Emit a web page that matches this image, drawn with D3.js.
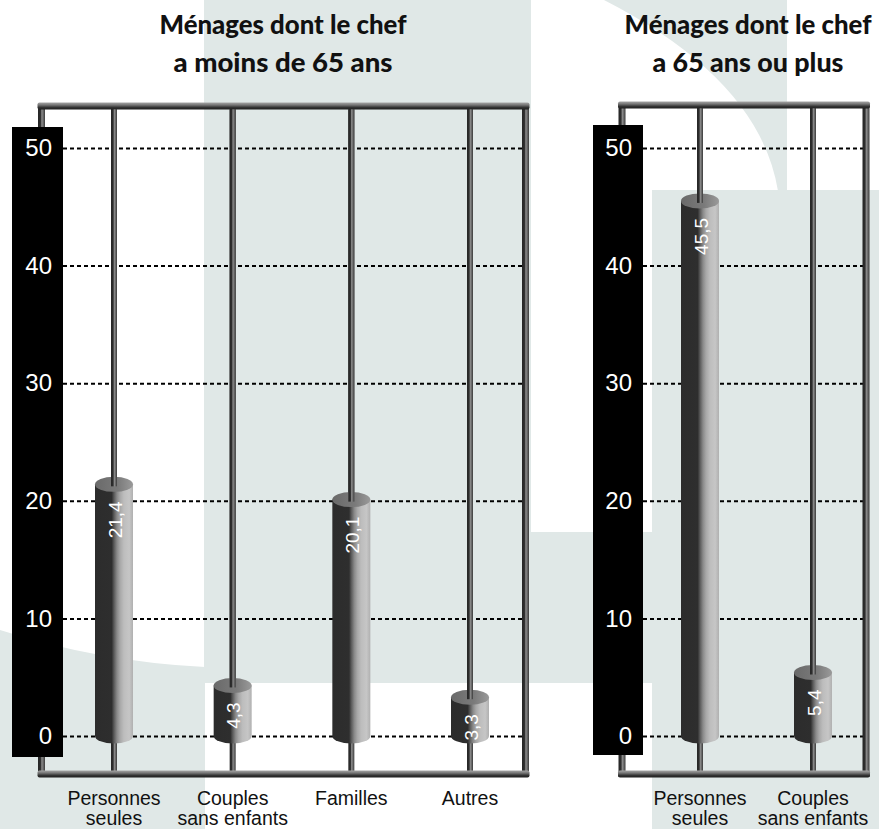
<!DOCTYPE html>
<html>
<head>
<meta charset="utf-8">
<script src="https://cdn.jsdelivr.net/npm/d3@7"></script>
<style>
  body { margin: 0; background: #fff; }
  svg { display: block; }
</style>
</head>
<body>
<div id="chart"></div>
<script>
// data
const leftCats = ["Personnes seules", "Couples sans enfants", "Familles", "Autres"];
const leftValues = [21.4, 4.3, 20.1, 3.3];
const rightCats = ["Personnes seules", "Couples sans enfants"];
const rightValues = [45.5, 5.4];
const catLines = {
  "Personnes seules": ["Personnes", "seules"],
  "Couples sans enfants": ["Couples", "sans enfants"],
  "Familles": ["Familles"],
  "Autres": ["Autres"]
};
const tickValues = [0, 10, 20, 30, 40, 50];
const leftTitle = ["Ménages dont le chef", "a moins de 65 ans"];
const rightTitle = ["Ménages dont le chef", "a 65 ans ou plus"];

const W = 879, H = 829;
const bgCol = "#e0e8e7";

let svg = d3.select("#chart").append("svg")
  .attr("width", W)
  .attr("height", H);

let defs = svg.append("defs");

// gradients
function hGrad(id, stops) {
  let g = defs.append("linearGradient").attr("id", id)
    .attr("x1", "0%").attr("x2", "100%").attr("y1", "0%").attr("y2", "0%");
  stops.forEach(s => g.append("stop").attr("offset", s[0]).attr("stop-color", s[1]));
}
function vGrad(id, stops) {
  let g = defs.append("linearGradient").attr("id", id)
    .attr("x1", "0%").attr("x2", "0%").attr("y1", "0%").attr("y2", "100%");
  stops.forEach(s => g.append("stop").attr("offset", s[0]).attr("stop-color", s[1]));
}
hGrad("cyl", [["0%", "#2c2c2c"], ["44%", "#2e2e2e"], ["50%", "#5a5a5a"], ["58%", "#8a8a8a"], ["66%", "#a8a8a8"], ["76%", "#bdbdbd"], ["90%", "#c6c6c6"], ["100%", "#b0b0b0"]]);
hGrad("cyltop", [["0%", "#6a6a6a"], ["60%", "#7a7a7a"], ["100%", "#9a9a9a"]]);
hGrad("rod", [["0%", "#262626"], ["35%", "#2e2e2e"], ["55%", "#8c8c8c"], ["75%", "#6a6a6a"], ["100%", "#3a3a3a"]]);
vGrad("bar", [["0%", "#a6a6a6"], ["35%", "#777"], ["70%", "#333"], ["100%", "#1e1e1e"]]);

// background shapes
let bg = svg.append("g");
bg.append("rect").attr("x", 204).attr("y", 0).attr("width", 327).attr("height", 683).attr("fill", bgCol);
bg.append("rect").attr("x", 530).attr("y", 532).attr("width", 126).attr("height", 151).attr("fill", bgCol);
bg.append("rect").attr("x", 652).attr("y", 190).attr("width", 227).attr("height", 639).attr("fill", bgCol);
bg.append("path").attr("d", "M604,0 Q760,80 778,191 L787,191 L787,0 Z").attr("fill", bgCol);
bg.append("path").attr("d", "M0,630 Q100,662 205,667 L205,829 L0,829 Z").attr("fill", bgCol);

// shared y scale
let y = d3.scaleLinear().domain([0, 50]).range([736, 148]);

const fr = d3.formatLocale({ decimal: ",", thousands: " ", grouping: [3], currency: ["", " €"] });
const fmt = fr.format(".1f");

function drawPanel(p) {
  let g = svg.append("g");
  let x = d3.scalePoint().domain(p.cats).range(p.xRange);
  const rodW = 6, barT = 7, cylW = 38, rx = cylW / 2, ry = 7.5;

  // title
  p.title.forEach((t, i) => {
    g.append("text")
      .attr("x", p.titleX)
      .attr("y", 34 + i * 38)
      .attr("text-anchor", "middle")
      .attr("font-family", "Lato, 'Open Sans', sans-serif")
      .attr("font-weight", "900")
      .attr("font-size", "26px")
      .attr("textLength", p.titleW[i])
      .attr("lengthAdjust", "spacingAndGlyphs")
      .attr("fill", "#111")
      .text(t);
  });

  // black axis bar
  g.append("rect")
    .attr("x", p.barX0).attr("y", p.barY0)
    .attr("width", p.barX1 - p.barX0).attr("height", p.barY1 - p.barY0)
    .attr("fill", "#000");

  // axis with dashed gridlines
  let axis = g.append("g")
    .attr("transform", "translate(" + p.barX1 + ",0)")
    .call(d3.axisLeft(y)
      .tickValues(tickValues)
      .tickSizeInner(-(p.frameR - p.barX1))
      .tickSizeOuter(0)
      .tickPadding(11));
  axis.select(".domain").remove();
  axis.selectAll(".tick line")
    .attr("stroke", "#000")
    .attr("stroke-width", 2)
    .attr("stroke-dasharray", "4,3");
  axis.selectAll(".tick text")
    .attr("fill", "#fff")
    .attr("font-family", "'Liberation Sans', Arial, sans-serif")
    .attr("font-size", "24px");

  // rods
  g.selectAll(".rod")
    .data(p.cats)
    .enter()
    .append("rect")
    .attr("class", "rod")
    .attr("x", d => x(d) - rodW / 2)
    .attr("y", p.frameT)
    .attr("width", rodW)
    .attr("height", p.frameB - p.frameT)
    .attr("fill", "url(#rod)");

  // frame posts
  g.append("rect").attr("x", p.frameL - 3.5).attr("y", p.frameT).attr("width", 7)
    .attr("height", p.barY0 - p.frameT).attr("fill", "url(#rod)");
  g.append("rect").attr("x", p.frameL - 3.5).attr("y", p.barY1).attr("width", 7)
    .attr("height", p.frameB - p.barY1 + 3).attr("fill", "url(#rod)");
  g.append("rect").attr("x", p.frameR - 3.5).attr("y", p.frameT).attr("width", 7)
    .attr("height", p.frameB - p.frameT + 3).attr("fill", "url(#rod)");
  // frame bars
  g.append("rect").attr("x", p.frameL - 4).attr("y", p.frameT - barT / 2)
    .attr("width", p.frameR - p.frameL + 8).attr("height", barT)
    .attr("rx", 2).attr("fill", "url(#bar)");
  g.append("rect").attr("x", p.frameL - 4).attr("y", p.frameB - barT / 2)
    .attr("width", p.frameR - p.frameL + 8).attr("height", barT)
    .attr("rx", 2).attr("fill", "url(#bar)");

  let rows = p.cats.map((c, i) => ({ cat: c, value: p.values[i] }));

  // cylinders
  let cyl = g.selectAll(".cyl")
    .data(rows)
    .enter()
    .append("g")
    .attr("class", "cyl");

  cyl.append("path")
    .attr("d", d => {
      let x0 = x(d.cat) - rx, x1 = x(d.cat) + rx;
      let yt = y(d.value), yb = y(0);
      return "M" + x0 + "," + yt + " L" + x0 + "," + yb +
        " A" + rx + "," + ry + " 0 0 0 " + x1 + "," + yb +
        " L" + x1 + "," + yt + " Z";
    })
    .attr("fill", "url(#cyl)");

  cyl.append("ellipse")
    .attr("cx", d => x(d.cat))
    .attr("cy", d => y(d.value))
    .attr("rx", rx)
    .attr("ry", ry)
    .attr("fill", "url(#cyltop)");

  // rod segment entering the top of the cylinder
  cyl.append("rect")
    .attr("x", d => x(d.cat) - rodW / 2)
    .attr("y", p.frameT + barT / 2)
    .attr("width", rodW)
    .attr("height", d => y(d.value) + 2 - p.frameT - barT / 2)
    .attr("fill", "url(#rod)");

  // value labels (rotated)
  cyl.append("text")
    .attr("transform", d => "translate(" + (x(d.cat) + 1) + "," + (y(d.value) + 17) + ") rotate(-90)")
    .attr("text-anchor", "end")
    .attr("dominant-baseline", "central")
    .attr("font-family", "'Liberation Sans', Arial, sans-serif")
    .attr("font-size", "19px")
    .attr("fill", "#fff")
    .text(d => fmt(d.value));

  // category labels
  let lab = g.selectAll(".cat")
    .data(p.cats)
    .enter()
    .append("text")
    .attr("class", "cat")
    .attr("x", d => x(d))
    .attr("y", 805)
    .attr("text-anchor", "middle")
    .attr("font-family", "'Liberation Sans', Arial, sans-serif")
    .attr("font-size", "19.5px")
    .attr("fill", "#111");
  lab.selectAll("tspan")
    .data(d => catLines[d].map(t => ({ t: t, x: x(d) })))
    .enter()
    .append("tspan")
    .attr("x", d => d.x)
    .attr("dy", (d, i) => i === 0 ? 0 : 20)
    .text(d => d.t);
}

drawPanel({
  cats: leftCats, values: leftValues, title: leftTitle, titleX: 283, titleW: [247, 219],
  xRange: [114, 470], frameL: 41.5, frameR: 525.5, frameT: 106, frameB: 774,
  barX0: 12, barX1: 63, barY0: 127, barY1: 757
});

drawPanel({
  cats: rightCats, values: rightValues, title: rightTitle, titleX: 748, titleW: [247, 191],
  xRange: [700, 813], frameL: 622, frameR: 866, frameT: 105, frameB: 774,
  barX0: 593, barX1: 643, barY0: 125, barY1: 755
});
</script>
</body>
</html>
